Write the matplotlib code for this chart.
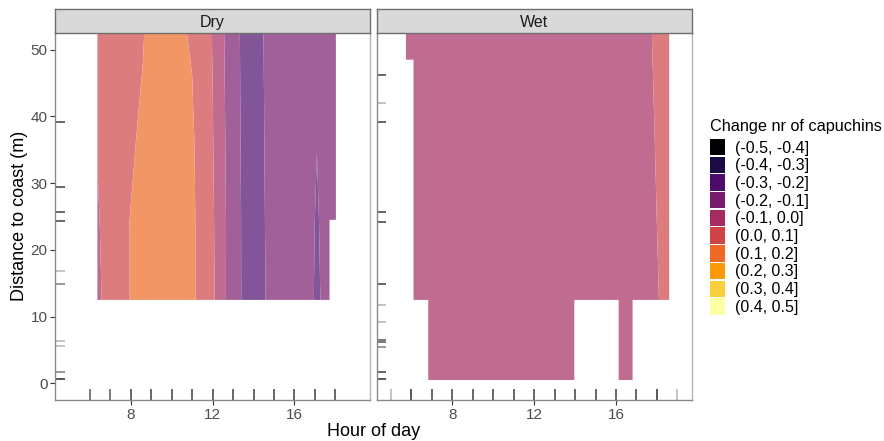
import numpy as np
import matplotlib
matplotlib.use("Agg")
import matplotlib.pyplot as plt
from matplotlib.patches import Patch
from matplotlib.colors import to_rgb

plt.rcParams['font.family'] = ['Liberation Sans', 'DejaVu Sans']

nan = np.nan

# ---- contour grids: hour of day (columns) x distance to coast (rows) ----
dry_hours = [6.36, 7, 8, 9, 10, 11, 12, 13, 14, 15, 16, 16.9, 17.1, 17.72, 18.03]
dry_dist = [12.5, 24.5, 36.5, 48.5, 60.5]
dry_change = [
    [-0.010, 0.021, 0.105, 0.130, 0.130, 0.117, 0.018, -0.164, -0.254, -0.163, -0.160, -0.190, -0.230, -0.121, nan],
    [-0.005, 0.024, 0.105, 0.130, 0.130, 0.116, 0.012, -0.160, -0.262, -0.151, -0.155, -0.190, -0.210, -0.150, -0.150],
    [0.003, 0.050, 0.080, 0.160, 0.150, 0.111, 0.005, -0.164, -0.263, -0.144, -0.150, -0.170, -0.198, -0.150, -0.150],
    [0.010, 0.040, 0.070, 0.120, 0.130, 0.097, -0.002, -0.171, -0.256, -0.144, -0.150, -0.160, -0.170, -0.150, -0.150],
    [0.020, 0.040, 0.070, 0.110, 0.120, 0.070, -0.005, -0.181, -0.243, -0.150, -0.150, -0.160, -0.165, -0.150, -0.150],
]

wet_hours = [5.73, 6.10, 6.82, 8, 9, 10, 11, 12, 13, 13.96, 15, 16.13, 16.81, 17, 18.6]
wet_dist = [0.5, 12.5, 24.5, 36.5, 48.5, 60.5]
wet_change = [
    [nan, nan, -0.050, -0.050, -0.045, -0.050, -0.055, -0.050, -0.050, -0.050, nan, -0.050, -0.050, nan, nan],
    [nan, -0.050, -0.050, -0.045, -0.045, -0.050, -0.050, -0.050, -0.055, -0.050, -0.050, -0.050, -0.055, -0.066, 0.030],
    [nan, -0.050, -0.045, -0.045, -0.050, -0.050, -0.050, -0.055, -0.050, -0.050, -0.050, -0.050, -0.050, -0.049, 0.030],
    [nan, -0.050, -0.045, -0.050, -0.050, -0.050, -0.050, -0.050, -0.050, -0.050, -0.050, -0.045, -0.045, -0.038, 0.030],
    [-0.050, -0.050, -0.050, -0.050, -0.050, -0.050, -0.050, -0.050, -0.050, -0.050, -0.045, -0.045, -0.040, -0.029, 0.030],
    [-0.050, -0.050, -0.050, -0.050, -0.050, -0.050, -0.050, -0.050, -0.050, -0.050, -0.045, -0.040, -0.035, -0.022, 0.030],
]

# ---- observation rugs (position, number of overlapping observations) ----
dry_rug_hours = [6, 7, 8, 9, 10, 11, 12, 13, 14, 15, 16, 17, 18]
dry_rug_hours_n = [3, 3, 4, 4, 4, 4, 4, 4, 4, 4, 4, 4, 4]
dry_rug_dist = [39.2, 29.4, 25.6, 24.3, 16.8, 14.9, 6.3, 5.6, 1.7, 0.7]
dry_rug_dist_n = [4, 4, 4, 4, 1, 2, 1, 1, 2, 5]

wet_rug_hours = [5, 6, 7, 8, 9, 10, 11, 12, 13, 14, 15, 16, 17, 18, 19]
wet_rug_hours_n = [1, 5, 4, 4, 4, 4, 4, 4, 4, 4, 4, 4, 4, 5, 1]
wet_rug_dist = [46.2, 42.0, 39.2, 25.6, 24.2, 14.9, 11.8, 9.2, 6.5, 6.2, 5.5, 1.7, 0.6]
wet_rug_dist_n = [4, 1, 4, 4, 4, 4, 1, 1, 3, 3, 2, 4, 5]

# ---- fill classes ----
levels = [-0.5, -0.4, -0.3, -0.2, -0.1, 0.0, 0.1, 0.2, 0.3, 0.4, 0.5]
class_labels = ["(-0.5, -0.4]", "(-0.4, -0.3]", "(-0.3, -0.2]", "(-0.2, -0.1]", "(-0.1, 0.0]",
                "(0.0, 0.1]", "(0.1, 0.2]", "(0.2, 0.3]", "(0.3, 0.4]", "(0.4, 0.5]"]
palette = ["#000004", "#1B0C42", "#4B0C6B", "#781C6D", "#A52C60",
           "#CF4446", "#ED6925", "#FB9A06", "#F7D03C", "#FCFFA4"]
fill_alpha = 0.7
# colours as they appear at fill_alpha over the white panel
panel_colors = [tuple(fill_alpha * np.array(to_rgb(c)) + (1 - fill_alpha)) for c in palette]

W, H = 884, 441
fig = plt.figure(figsize=(W / 100, H / 100), dpi=100)


def frac_box(x0, y0, x1, y1):
    return [x0 / W, 1 - y1 / H, (x1 - x0) / W, (y1 - y0) / H]


panel_top, panel_bottom = 33, 400
strip_top = 9
panels = [
    ("Dry", 55.3, 370.0, dry_hours, dry_dist, dry_change,
     dry_rug_hours, dry_rug_hours_n, dry_rug_dist, dry_rug_dist_n),
    ("Wet", 376.7, 691.7, wet_hours, wet_dist, wet_change,
     wet_rug_hours, wet_rug_hours_n, wet_rug_dist, wet_rug_dist_n),
]

axis_grey = "#8a8a8a"
border_grey = "#b3b3b3"
rug_alpha = 0.3

for i, (name, x0, x1, hrs, dist, z, rx, rxn, ry, ryn) in enumerate(panels):
    ax = fig.add_axes(frac_box(x0, panel_top, x1, panel_bottom))
    Xg, Yg = np.meshgrid(hrs, dist)
    Z = np.ma.masked_invalid(np.array(z, dtype=float))
    ax.contourf(Xg, Yg, Z, levels=levels, colors=panel_colors, corner_mask=False,
                antialiased=True)
    ax.set_xlim(4.3, 19.7)
    ax.set_ylim(-2.5, 52.5)

    for x, n in zip(rx, rxn):
        ax.axvline(x, ymin=0, ymax=0.03, color="black", lw=1.1,
                   alpha=1 - (1 - rug_alpha) ** n, solid_capstyle="butt")
    for y, n in zip(ry, ryn):
        ax.axhline(y, xmin=0, xmax=0.03, color="black", lw=1.1,
                   alpha=1 - (1 - rug_alpha) ** n, solid_capstyle="butt")

    ax.set_xticks([8, 12, 16])
    ax.tick_params(axis="x", length=3.5, width=0.8, color="#333333", pad=2,
                   labelsize=11, labelcolor="#4D4D4D")
    if i == 0:
        ax.set_yticks([0, 10, 20, 30, 40, 50])
        ax.tick_params(axis="y", length=3.5, width=0.8, color="#333333", pad=2,
                       labelsize=11, labelcolor="#4D4D4D")
    else:
        ax.set_yticks([])
    ax.spines["left"].set_color(axis_grey)
    ax.spines["bottom"].set_color(axis_grey)
    ax.spines["right"].set_color(border_grey)
    ax.spines["top"].set_visible(False)
    for s in ax.spines.values():
        s.set_linewidth(1.0)

    sax = fig.add_axes(frac_box(x0, strip_top, x1, panel_top))
    sax.set_facecolor("#D9D9D9")
    sax.set_xticks([])
    sax.set_yticks([])
    for s in sax.spines.values():
        s.set_color("#6e6e6e")
        s.set_linewidth(1.0)
    sax.text(0.5, 0.45, name, ha="center", va="center", fontsize=11.5,
             color="#1A1A1A", transform=sax.transAxes)

fig.text((55.3 + 691.7) / 2 / W, 1 - 431 / H, "Hour of day", ha="center", va="center",
         fontsize=13)
fig.text(20 / W, 1 - 216 / H, "Distance to coast (m)", ha="center", va="center",
         rotation=90, fontsize=13)

# legend: title placed on its own, keys below it
fig.text(709.5 / W, 1 - 131 / H, "Change nr of capuchins", ha="left", va="baseline",
         fontsize=11.7)
handles = [Patch(facecolor=c, edgecolor="none", label=l) for c, l in zip(palette, class_labels)]
leg = fig.legend(handles=handles, loc="upper left",
                 bbox_to_anchor=(709.5 / W, 1 - 139 / H), frameon=False,
                 fontsize=11.5, handlelength=1.0, handleheight=1.2,
                 labelspacing=0.07, handletextpad=0.6, borderpad=0, borderaxespad=0)

fig.savefig("out.png", dpi=100)
